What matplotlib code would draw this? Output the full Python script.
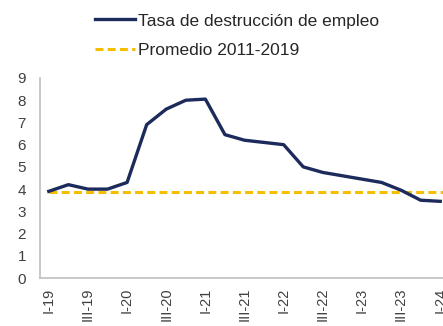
import matplotlib
matplotlib.use("Agg")
import matplotlib.pyplot as plt

plt.rcParams['font.family'] = ['Liberation Sans', 'DejaVu Sans']

quarters = ["I-19", "II-19", "III-19", "IV-19",
            "I-20", "II-20", "III-20", "IV-20",
            "I-21", "II-21", "III-21", "IV-21",
            "I-22", "II-22", "III-22", "IV-22",
            "I-23", "II-23", "III-23", "IV-23",
            "I-24"]
tasa = [3.9, 4.2, 4.0, 4.0,
        4.3, 6.9, 7.6, 8.0,
        8.05, 6.45, 6.2, 6.1,
        6.0, 5.0, 4.75, 4.6,
        4.45, 4.3, 3.95, 3.5,
        3.45]
promedio = 3.85

label_tasa = "Tasa de destrucción de empleo"
label_prom = "Promedio 2011-2019"

navy = "#1c2a5c"
gold = "#f5be00"
grey_axis = "#bfbfbf"
tick_col = "#404040"

fig = plt.figure(figsize=(4.43, 3.26), dpi=100)
ax = fig.add_axes([40 / 443, 48 / 326, 411 / 443, 200 / 326])

x = list(range(len(quarters)))
ln_tasa, = ax.plot(x, tasa, color=navy, lw=2.4, solid_joinstyle='round',
                   label=label_tasa, zorder=3)
ln_prom, = ax.plot([x[0], len(quarters) + 1], [promedio, promedio], color=gold,
                   lw=2.2, label=label_prom, zorder=2)
ln_prom.set_dashes((2.6, 1.4))

ax.set_xlim(-0.45, len(quarters) - 0.45)
ax.set_ylim(0, 9)
ax.set_yticks(range(0, 10))
ax.set_xticks(x[::2])
ax.set_xticklabels(quarters[::2], rotation=90)

for side in ("top", "right"):
    ax.spines[side].set_visible(False)
for side in ("left", "bottom"):
    ax.spines[side].set_color(grey_axis)
    ax.spines[side].set_linewidth(1.2)

ax.tick_params(axis='y', length=0, pad=10, labelsize=11, labelcolor=tick_col)
ax.tick_params(axis='x', length=0, pad=7, labelsize=10.5, labelcolor=tick_col)

fig.legend(handles=[ln_tasa, ln_prom], loc='upper left',
           bbox_to_anchor=(85 / 443, 1 - 3 / 326), frameon=False,
           fontsize=12.5, handlelength=2.3, handletextpad=0.15,
           labelspacing=0.85, borderaxespad=0.2, labelcolor="#262626")

fig.savefig("out.png", dpi=100)
